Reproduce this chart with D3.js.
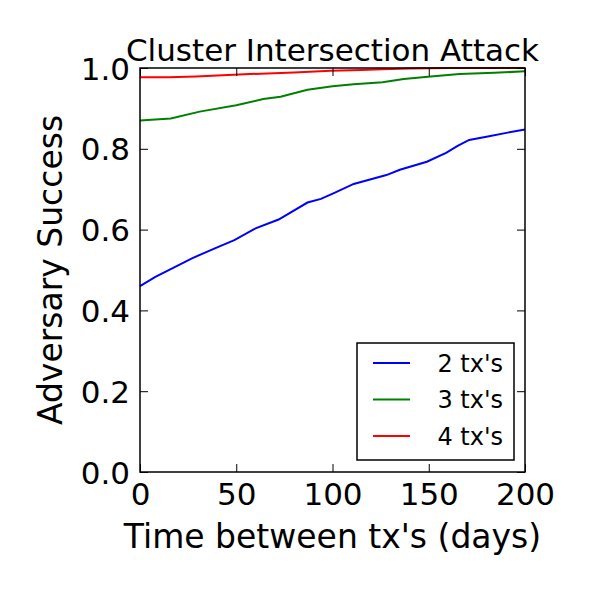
<!DOCTYPE html>
<html>
<head>
  <script src="https://cdn.jsdelivr.net/npm/d3@7/dist/d3.min.js"></script>
  <style>
    body { margin: 0; background: #fff; }
    text { font-family: "DejaVu Sans", sans-serif; }
  </style>
</head>
<body>
  <svg width="593" height="593"></svg>
  <script>
    // values
    const days2 = [0, 8, 27, 41, 49, 60, 72, 87, 94, 101, 111, 128, 135, 149, 159, 165, 171, 180, 191, 200];
    const succ2 = [0.460, 0.483, 0.529, 0.558, 0.574, 0.603, 0.625, 0.667, 0.676, 0.691, 0.713, 0.735, 0.748, 0.768, 0.790, 0.807, 0.822, 0.830, 0.840, 0.848];
    const days3 = [0, 16, 31, 50, 64, 73, 87, 100, 111, 126, 137, 151, 166, 184, 200];
    const succ3 = [0.870, 0.875, 0.892, 0.908, 0.923, 0.929, 0.946, 0.955, 0.960, 0.965, 0.973, 0.979, 0.985, 0.988, 0.992];
    const days4 = [0, 15, 29, 57, 80, 99, 115, 126, 140, 160, 200];
    const succ4 = [0.977, 0.977, 0.979, 0.985, 0.989, 0.993, 0.995, 0.997, 0.999, 1.0, 1.0];

    const seriesNames = ["2 tx's", "3 tx's", "4 tx's"];
    const seriesColors = ['#0000ff', '#008000', '#ff0000'];
    const xTicks = [0, 50, 100, 150, 200];
    const yTicks = [0.0, 0.2, 0.4, 0.6, 0.8, 1.0];

    const series = [
      d3.zip(days2, succ2),
      d3.zip(days3, succ3),
      d3.zip(days4, succ4)
    ];

    const svg = d3.select('svg');
    const margin = { top: 68, right: 68, bottom: 121, left: 140 };
    const width = 593 - margin.left - margin.right;
    const height = 593 - margin.top - margin.bottom;

    const x = d3.scaleLinear().domain([0, 200]).range([0, width]);
    const y = d3.scaleLinear().domain([0, 1]).range([height, 0]);

    const g = svg.append('g').attr('transform', `translate(${margin.left},${margin.top})`);

    // lines
    const line = d3.line().x(d => x(d[0])).y(d => y(d[1]));
    g.append('g')
      .selectAll('path')
      .data(series)
      .enter()
      .append('path')
      .attr('d', line)
      .attr('fill', 'none')
      .attr('stroke', (d, i) => seriesColors[i])
      .attr('stroke-width', 2);

    // axes, ticks inside on all four sides
    const tickLen = 8;
    const xAxis = g.append('g').attr('transform', `translate(0,${height})`)
      .call(d3.axisBottom(x).tickValues(xTicks).tickSizeInner(-tickLen).tickSizeOuter(0).tickPadding(11).tickFormat(d3.format('d')));
    const yAxis = g.append('g')
      .call(d3.axisLeft(y).tickValues(yTicks).tickSizeInner(-tickLen).tickSizeOuter(0).tickPadding(10).tickFormat(d3.format('.1f')));
    g.append('g')
      .call(d3.axisTop(x).tickValues(xTicks).tickSizeInner(-tickLen).tickSizeOuter(0).tickFormat(''));
    g.append('g').attr('transform', `translate(${width},0)`)
      .call(d3.axisRight(y).tickValues(yTicks).tickSizeInner(-tickLen).tickSizeOuter(0).tickFormat(''));

    g.selectAll('.domain').remove();
    g.selectAll('.tick line').attr('stroke', '#000').attr('stroke-width', 1);
    xAxis.selectAll('text').attr('font-size', 31).attr('fill', '#000').attr('dy', '0.71em');
    yAxis.selectAll('text').attr('font-size', 31).attr('fill', '#000').attr('dy', '0.36em');

    g.append('rect')
      .attr('width', width).attr('height', height)
      .attr('fill', 'none').attr('stroke', '#000').attr('stroke-width', 1.5);

    // titles
    svg.append('text')
      .attr('x', margin.left + width / 2).attr('y', 61)
      .attr('text-anchor', 'middle').attr('font-size', 31)
      .text('Cluster Intersection Attack');
    svg.append('text')
      .attr('x', margin.left + width / 2).attr('y', 548)
      .attr('text-anchor', 'middle').attr('font-size', 33)
      .text("Time between tx's (days)");
    svg.append('text')
      .attr('transform', `translate(62,${margin.top + height / 2}) rotate(-90)`)
      .attr('text-anchor', 'middle').attr('font-size', 33)
      .text('Adversary Success');

    // legend
    const legend = g.append('g').attr('transform', `translate(${357 - margin.left},${343 - margin.top})`);
    legend.append('rect')
      .attr('width', 157).attr('height', 117)
      .attr('fill', '#fff').attr('stroke', '#000').attr('stroke-width', 1.5);
    const item = legend.selectAll('.item')
      .data(seriesNames)
      .enter()
      .append('g')
      .attr('class', 'item')
      .attr('transform', (d, i) => `translate(0,${20 + i * 36.5})`);
    item.append('line')
      .attr('x1', 16).attr('x2', 53)
      .attr('stroke', (d, i) => seriesColors[i]).attr('stroke-width', 2);
    item.append('text')
      .attr('x', 146).attr('dy', '0.36em')
      .attr('text-anchor', 'end').attr('font-size', 24)
      .text(d => d);
  </script>
</body>
</html>
